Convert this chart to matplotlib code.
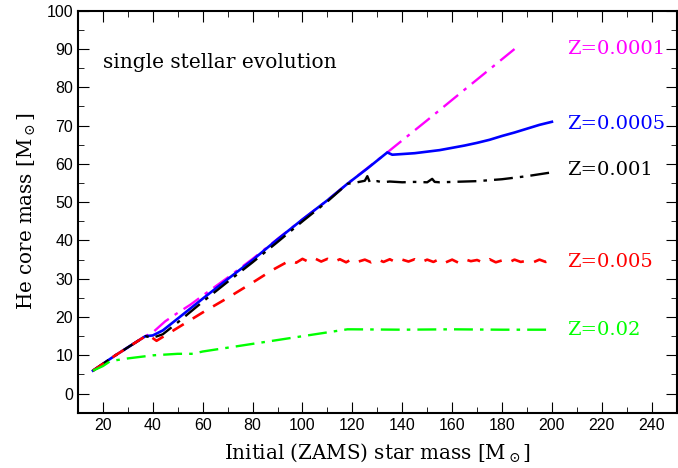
import matplotlib.pyplot as plt
import numpy as np

# initial mass [Msun] and He core mass [Msun] for each metallicity
m_z0001 = [16, 25, 37, 40, 45, 50, 55, 60, 70, 80, 90, 100, 110, 118, 134, 150, 165, 185]
he_z0001 = [6, 10, 15, 16, 18.9, 21.1, 23.2, 25.6, 30.3, 35.2, 40.4, 45.5, 50.5, 54.8, 63, 71.4, 79.4, 90]

m_z0005 = [16, 25, 37, 40, 44, 50, 60, 70, 80, 90, 100, 110, 118, 126, 134, 136,
           145, 150, 155, 160, 165, 170, 175, 180, 185, 190, 195, 200]
he_z0005 = [6, 10, 15, 15.2, 16.5, 19.6, 24.8, 29.9, 34.9, 40.3, 45.5, 50.5, 54.8, 58.8, 63, 62.4,
            62.8, 63.2, 63.6, 64.2, 64.8, 65.5, 66.3, 67.3, 68.2, 69.2, 70.2, 71]

m_z001 = [16, 25, 37, 40, 44, 50, 60, 70, 80, 90, 100, 110, 118, 122, 125, 126,
          127, 130, 132, 135, 140, 145, 150, 152, 153, 155, 160, 170, 180, 190, 195, 200]
he_z001 = [6, 10, 15, 14.6, 15.5, 18.6, 24, 29.2, 34.3, 39.6, 45, 50.2, 54.8, 55.2, 55.6, 56.8,
           55.2, 55.5, 55.2, 55.4, 55.2, 55.3, 55.2, 56.1, 55.3, 55.2, 55.3, 55.5, 56, 56.8, 57.3, 57.8]

m_z005 = [16, 25, 38, 41.5, 50, 60, 70, 80, 88, 95, 97.5, 100, 102.5, 105, 107.5, 110,
          112.5, 115, 117.5, 120, 122.5, 125, 127.5, 130, 132.5, 135, 137.5, 140, 142.5,
          145, 147.5, 150, 152.5, 155, 157.5, 160, 162.5, 165, 167.5, 170, 172.5, 175,
          177.5, 180, 182.5, 185, 187.5, 190, 192.5, 195, 197.5, 200]
he_z005 = [6, 10, 15.4, 13.8, 17.2, 21.2, 25, 29, 32.3, 34.8, 34.2, 35.2, 34.4, 35.3,
           34.5, 35.2, 34.4, 35.1, 34.3, 35.2, 34.5, 35.0, 34.3, 35.1, 34.4, 35.1, 34.3,
           35.0, 34.5, 35.1, 34.3, 35.0, 34.4, 35.2, 34.3, 35.0, 34.2, 35.1, 34.6, 34.9,
           34.2, 35.1, 34.3, 34.8, 34.2, 35.0, 34.4, 34.7, 34.3, 35.0, 34.4, 34.9]

m_z02 = [16, 20, 23, 30, 40, 50, 56, 60, 70, 80, 90, 100, 110, 118, 120, 140, 160, 180, 200]
he_z02 = [6, 7.2, 8.5, 9.2, 10, 10.4, 10.4, 11, 12, 13, 14, 15, 16, 16.8, 16.8, 16.7, 16.8, 16.7, 16.7]

labels = ['Z=0.0001', 'Z=0.0005', 'Z=0.001', 'Z=0.005', 'Z=0.02']
label_y = [90, 70.3, 58.5, 34.5, 16.7]
colors = ['#ff00ff', '#0000ff', '#000000', '#ff0000', '#00ff00']

plt.rcParams['mathtext.fontset'] = 'dejavuserif'

fig, ax = plt.subplots(figsize=(6.78, 4.68), dpi=100)
fig.subplots_adjust(left=0.115, right=0.998, top=0.977, bottom=0.118)

ax.plot(m_z0001, he_z0001, color=colors[0], lw=1.7, dashes=(8, 3, 1.5, 3))
ax.plot(m_z0005, he_z0005, color=colors[1], lw=1.9)
ax.plot(m_z001, he_z001, color=colors[2], lw=1.7, dashes=(8, 3, 1.5, 3))
ax.plot(m_z005, he_z005, color=colors[3], lw=1.9, dashes=(5, 4))
ax.plot(m_z02, he_z02, color=colors[4], lw=1.7, dashes=(8, 3, 1.5, 3))

for lab, y, c in zip(labels, label_y, colors):
    ax.text(206, y, lab, color=c, fontsize=14, family='DejaVu Serif', va='center')

ax.text(20, 86.5, 'single stellar evolution', fontsize=14.5, family='DejaVu Serif', va='center')

ax.set_xlim(10, 250)
ax.set_ylim(-5, 100)
ax.set_xticks(np.arange(20, 241, 20))
ax.set_xticks(np.arange(10, 251, 10), minor=True)
ax.set_yticks(np.arange(0, 101, 10))
ax.set_yticks(np.arange(-5, 101, 5), minor=True)
ax.tick_params(which='both', direction='in', top=True, right=True, labelsize=11.5)
ax.tick_params(which='major', length=8)
ax.tick_params(which='minor', length=4)
for lbl in ax.get_xticklabels() + ax.get_yticklabels():
    lbl.set_family('Liberation Sans')
for s in ax.spines.values():
    s.set_linewidth(1.5)

ax.set_xlabel(r'Initial (ZAMS) star mass [M$_\odot$]', family='DejaVu Serif', fontsize=14.3, labelpad=6)
ax.set_ylabel(r'He core mass [M$_\odot$]', family='DejaVu Serif', fontsize=14.3, labelpad=6)

fig.savefig('out.png')
